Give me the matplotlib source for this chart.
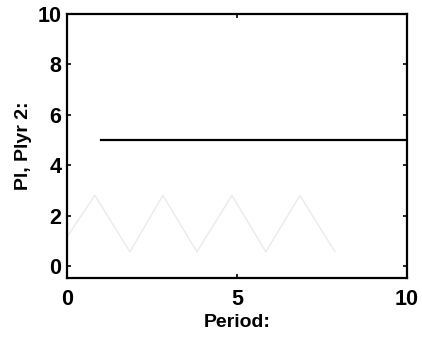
import matplotlib
matplotlib.use("Agg")
import matplotlib.pyplot as plt

# Main series: player 2 payoff over periods
period = [1, 10]
payoff = [5, 5]

# Faint bleed-through zigzag seen behind the plot
ghost_x = [0.0, 0.82, 1.85, 2.82, 3.82, 4.85, 5.85, 6.85, 7.88]
ghost_y = [1.15, 2.8, 0.56, 2.8, 0.56, 2.8, 0.56, 2.8, 0.56]

xticks = [0, 5, 10]
yticks = [0, 2, 4, 6, 8, 10]

plt.rcParams['font.family'] = ['Liberation Sans', 'DejaVu Sans']
fig = plt.figure(figsize=(4.22, 3.39), dpi=100)
ax = fig.add_axes([67/422, (339-278)/339, 340/422, (278-14)/339])

ax.plot(ghost_x, ghost_y, color='#ebebeb', lw=1.0, zorder=1)
ax.plot(period, payoff, color='black', lw=1.6, zorder=3)

ax.set_xlim(0, 10)
ax.set_ylim(-0.48, 10)
ax.set_xticks(xticks)
ax.set_yticks(yticks)
ax.tick_params(direction='in', length=3, width=1.2, top=True, right=True,
               labelsize=15.5, pad=4)
ax.tick_params(axis='x', pad=8)
for lbl in ax.get_xticklabels() + ax.get_yticklabels():
    lbl.set_fontweight('bold')
for s in ax.spines.values():
    s.set_linewidth(1.6)

ax.set_xlabel('Period:', fontsize=14, fontweight='bold', labelpad=3)
ax.set_ylabel('Pl, Plyr 2:', fontsize=14, fontweight='bold', labelpad=4)

fig.savefig('out.png', dpi=100)
